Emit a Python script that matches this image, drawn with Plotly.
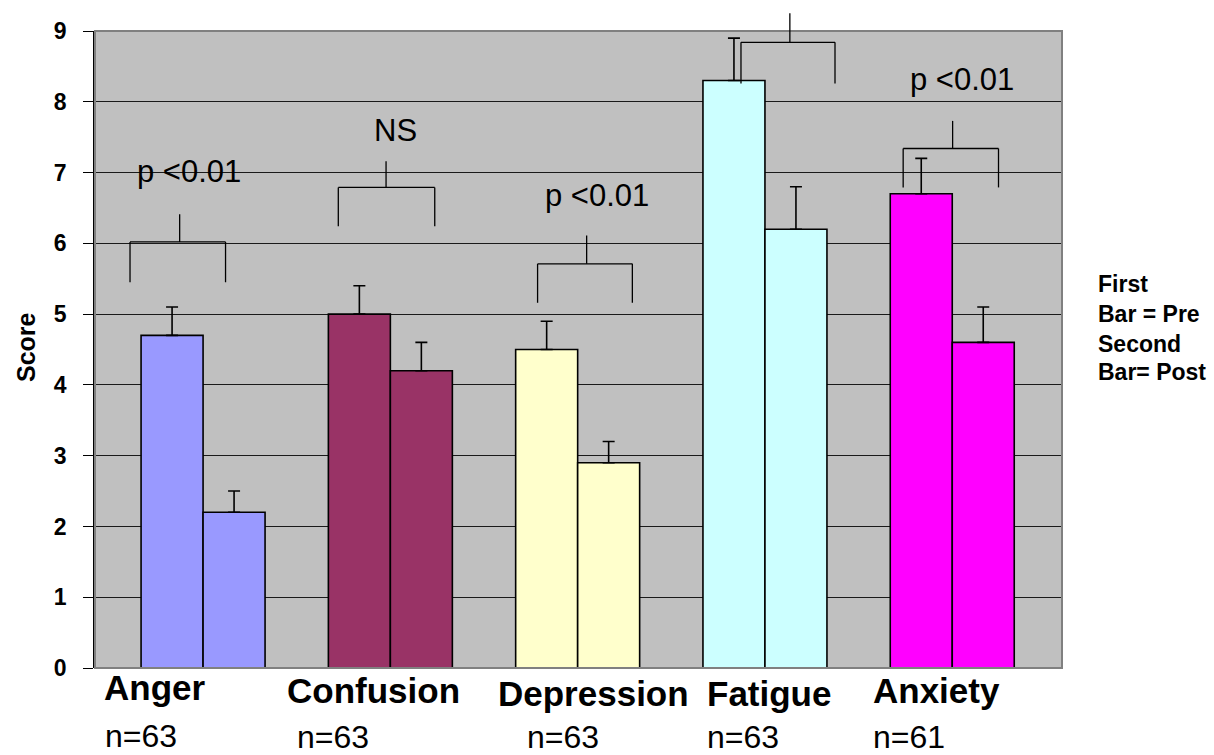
import plotly.graph_objects as go

# ---------------- data ----------------
categories = ["Anger", "Confusion", "Depression", "Fatigue", "Anxiety"]
pre_scores = [4.7, 5.0, 4.5, 8.3, 6.7]
post_scores = [2.2, 4.2, 2.9, 6.2, 4.6]
pre_err = [0.4, 0.4, 0.4, 0.6, 0.5]
post_err = [0.3, 0.4, 0.3, 0.6, 0.5]
n_labels = ["n=63", "n=63", "n=63", "n=63", "n=61"]
sig_labels = ["p <0.01", "NS", "p <0.01", None, "p <0.01"]
bar_colors = ["#9999FF", "#993366", "#FFFFCC", "#CCFFFF", "#FF00FF"]
y_ticks = [0, 1, 2, 3, 4, 5, 6, 7, 8, 9]

# ---------------- layout helpers (annotation geometry) ----------------
# bracket: (left x, right x, middle x, bar y, leg bottom y, tick top y)
brackets = [
    (-0.39, 0.12, -0.125, 6.02, 5.45, 6.41),
    (0.722, 1.237, 0.977, 6.79, 6.24, 7.16),
    (1.786, 2.292, 2.048, 5.71, 5.16, 6.11),
    (2.872, 3.374, 3.133, 8.84, 8.26, 9.25),
    (3.738, 4.247, 4.002, 7.34, 6.79, 7.73),
]
sig_pos = [(-0.077, 7.01), (1.03, 7.60), (2.102, 6.68), None, (4.05, 8.31)]
cat_pos = [(101.7, 687), (284.5, 691), (496, 693), (705, 693), (871, 691)]
n_pos = [(102.7, 736), (295, 737), (524.5, 737), (705, 736.5), (871, 736.5)]

W, H = 1214, 755
L, R, T, B = 95, 152, 31, 87
PW, PH = W - L - R, H - T - B
FONT = "Liberation Sans, Arial, sans-serif"

def px_x(px):
    return (px - L) / PW

def px_y(py):
    return (H - B - py) / PH

xs = list(range(len(categories)))
YMAX = 9

fig = go.Figure()
fig.add_trace(go.Bar(
    x=xs, y=pre_scores, name="Pre", offsetgroup="pre",
    marker=dict(color=bar_colors, line=dict(color="black", width=1.6)),
    error_y=dict(type="data", array=pre_err, arrayminus=[0] * 5, symmetric=False,
                 color="black", thickness=1.6, width=6),
))
fig.add_trace(go.Bar(
    x=xs, y=post_scores, name="Post", offsetgroup="post",
    marker=dict(color=bar_colors, line=dict(color="black", width=1.6)),
    error_y=dict(type="data", array=post_err, arrayminus=[0] * 5, symmetric=False,
                 color="black", thickness=1.6, width=6),
))

shapes = []
# plot border
shapes.append(dict(type="rect", xref="paper", yref="paper", x0=0, x1=1, y0=0, y1=1,
                   line=dict(color="#808080", width=2), layer="above"))
for (xl, xr, xm, yb, yl, yt) in brackets:
    line = dict(color="black", width=1.3)
    shapes.append(dict(type="line", xref="x", yref="paper", x0=xl, x1=xr, y0=yb / YMAX, y1=yb / YMAX, line=line))
    shapes.append(dict(type="line", xref="x", yref="paper", x0=xl, x1=xl, y0=yb / YMAX, y1=yl / YMAX, line=line))
    shapes.append(dict(type="line", xref="x", yref="paper", x0=xr, x1=xr, y0=yb / YMAX, y1=yl / YMAX, line=line))
    shapes.append(dict(type="line", xref="x", yref="paper", x0=xm, x1=xm, y0=yb / YMAX, y1=yt / YMAX, line=line))

annotations = []
for lab, pos in zip(sig_labels, sig_pos):
    if lab is None or pos is None:
        continue
    annotations.append(dict(text=lab, x=pos[0], y=pos[1], xref="x", yref="y",
                            showarrow=False, xanchor="center", yanchor="middle",
                            font=dict(family=FONT, size=31, color="black")))
for lab, (px, py) in zip(categories, cat_pos):
    annotations.append(dict(text=lab, x=px_x(px), y=px_y(py), xref="paper", yref="paper",
                            showarrow=False, xanchor="left", yanchor="middle",
                            font=dict(family=FONT, size=35, color="black", weight="bold")))
for lab, (px, py) in zip(n_labels, n_pos):
    annotations.append(dict(text=lab, x=px_x(px), y=px_y(py), xref="paper", yref="paper",
                            showarrow=False, xanchor="left", yanchor="middle",
                            font=dict(family=FONT, size=32, color="black")))
# y-axis title
annotations.append(dict(text="Score", x=px_x(26), y=px_y(347), xref="paper", yref="paper",
                        showarrow=False, textangle=-90, xanchor="center", yanchor="middle",
                        font=dict(family=FONT, size=25, color="black", weight="bold")))
# side note
for txt, py in zip(["First", "Bar = Pre", "Second", "Bar= Post"], [284, 314, 344, 372]):
    annotations.append(dict(text=txt, x=px_x(1096), y=px_y(py), xref="paper", yref="paper",
                            showarrow=False, xanchor="left", yanchor="middle",
                            font=dict(family=FONT, size=23, color="black", weight="bold")))

fig.update_layout(
    width=W, height=H,
    margin=dict(l=L, r=R, t=T, b=B, pad=0),
    paper_bgcolor="white", plot_bgcolor="#C0C0C0",
    barmode="group", bargap=0.338, bargroupgap=0,
    showlegend=False,
    shapes=shapes, annotations=annotations,
    xaxis=dict(range=[-0.577, 4.586], showticklabels=False, showgrid=False,
               zeroline=False, showline=False, ticks=""),
    yaxis=dict(range=[0, YMAX], tickvals=y_ticks, showgrid=True, gridcolor="#1a1a1a",
               gridwidth=1, zeroline=False, showline=True, linecolor="black", linewidth=1.5,
               ticks="outside", ticklen=10, tickcolor="black", tickwidth=1.2,
               ticklabelstandoff=12,
               tickfont=dict(family=FONT, size=23, color="black", weight="bold")),
)

fig.write_html(
    "out.html",
    config={"displayModeBar": False},
    post_script="document.body.style.margin='0';document.body.style.overflow='hidden';",
)
